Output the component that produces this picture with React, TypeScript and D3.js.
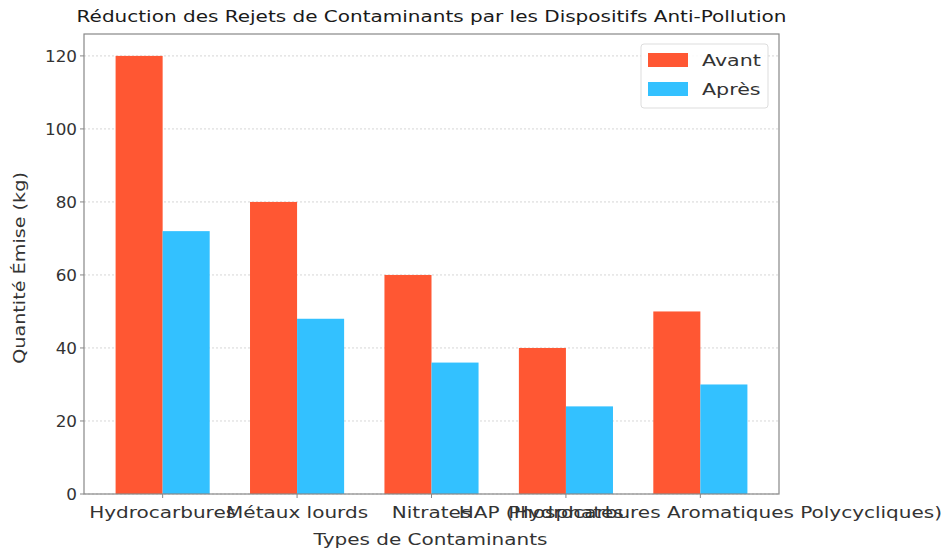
import React from "react";
import * as d3 from "d3";

const categories = [
  "Hydrocarbures",
  "Métaux lourds",
  "Nitrates",
  "Phosphates",
  "HAP (Hydrocarbures Aromatiques Polycycliques)",
];
const avant = [120, 80, 60, 40, 50];
const apres = [72, 48, 36, 24, 30];
const yTicks = [0, 20, 40, 60, 80, 100, 120];
const seriesNames = ["Avant", "Après"];
const colors = ["#FF5733", "#33C1FF"];

const W = 944;
const H = 551;
const left = 84;
const right = 779;
const top = 34;
const bottom = 494;
const font = "'DejaVu Sans', sans-serif";
const SX = 1.25;

function SText({ x, y, anchor = "middle", size = 16, fill = "#333", rotate = 0, sx = SX, children }: any) {
  return (
    <text
      transform={`translate(${x},${y}) rotate(${rotate}) scale(${sx},1)`}
      textAnchor={anchor}
      fontSize={size}
      fill={fill}
    >
      {children}
    </text>
  );
}

export default function App() {
  const barW = 0.35;
  const n = categories.length;
  const x = d3.scaleLinear().domain([-barW - 0.235, n - 1 + barW + 0.235]).range([left, right]);
  const y = d3.scaleLinear().domain([0, 126]).range([bottom, top]);
  const bw = x(barW) - x(0);
  const series = [avant, apres];
  return (
    <svg width={W} height={H} style={{ position: "absolute", left: 0, top: 0 }} fontFamily={font}>
      <rect width={W} height={H} fill="#fff" />
      {yTicks.map((t) => (
        <line key={"g" + t} x1={left} x2={right} y1={y(t)} y2={y(t)} stroke="#ccc" strokeDasharray="2,2" strokeWidth={0.8} />
      ))}
      {series.map((s, si) =>
        s.map((v, i) => (
          <rect
            key={si + "-" + i}
            x={si === 0 ? x(i) - bw : x(i)}
            y={y(v)}
            width={bw}
            height={y(0) - y(v)}
            fill={colors[si]}
          />
        ))
      )}
      <rect x={left} y={top} width={right - left} height={bottom - top} fill="none" stroke="#888" strokeWidth={1.2} />
      {yTicks.map((t) => (
        <g key={"t" + t}>
          <line x1={left - 4} x2={left} y1={y(t)} y2={y(t)} stroke="#888" />
          <SText x={left - 7} y={y(t) + 6} anchor="end" sx={1.05}>
            {t}
          </SText>
        </g>
      ))}
      {categories.map((c, i) => (
        <g key={"c" + i}>
          <line x1={x(i)} x2={x(i)} y1={bottom} y2={bottom + 4} stroke="#888" />
          <SText x={x(i)} y={bottom + 24}>{c}</SText>
        </g>
      ))}
      <SText x={(left + right) / 2 - 1} y={545}>Types de Contaminants</SText>
      <SText x={25} y={268} rotate={-90} sx={1.2}>Quantité Émise (kg)</SText>
      <SText x={(left + right) / 2} y={22} fill="#1a1a1a">
        Réduction des Rejets de Contaminants par les Dispositifs Anti-Pollution
      </SText>
      <g>
        <rect x={641} y={44} width={127} height={64} rx={3} fill="#fff" fillOpacity={0.85} stroke="#ddd" />
        {seriesNames.map((s, i) => (
          <g key={s}>
            <rect x={648} y={53 + i * 29} width={40} height={14} fill={colors[i]} />
            <SText x={702} y={66 + i * 29} anchor="start" size={16.5}>
              {s}
            </SText>
          </g>
        ))}
      </g>
    </svg>
  );
}
